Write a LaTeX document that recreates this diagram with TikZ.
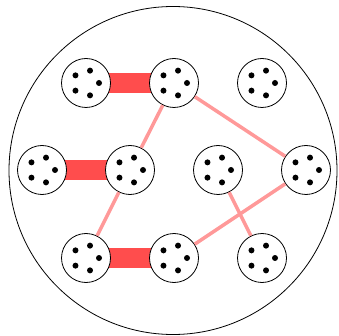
\documentclass[tikz,border=0pt]{standalone}
\usetikzlibrary{backgrounds}
\definecolor{bondred}{RGB}{255,77,77}
\definecolor{linkpink}{RGB}{255,153,153}
\tikzset{
    cell/.style={circle, draw=black, fill=white, line width=0.8pt, minimum size=49pt, inner sep=0pt,
        path picture={\foreach \a in {0,72,...,288} {\fill[black] (path picture bounding box.center) ++(\a:13pt) circle (3pt);}}},
    bond/.style={line width=20pt, bondred},
    link/.style={line width=3.5pt, linkpink},
}
\begin{document}
\begin{tikzpicture}[x=1pt,y=-1pt]
    \useasboundingbox (0,0) rectangle (339,336);
    % Outer boundary
    \node[circle, draw, line width=0.8pt, minimum size=328pt, inner sep=0pt] (outer) at (173,170.5) {};
    % Top row
    \foreach \x/\n in {86/t1, 174/t2, 262/t3} {
        \node[cell] (\n) at (\x, 83) {};
    }
    % Middle row
    \foreach \x/\n in {42/m1, 130/m2, 218/m3, 306/m4} {
        \node[cell] (\n) at (\x, 170) {};
    }
    % Bottom row
    \foreach \x/\n in {86/b1, 174/b2, 262/b3} {
        \node[cell] (\n) at (\x, 258) {};
    }
    % Thick bonds
    \begin{scope}[on background layer]
        \foreach \a/\b in {t1/t2, m1/m2, b1/b2} {
            \draw[bond] (\a.center) -- (\b.center);
        }
    \end{scope}
    % Thin links
    \foreach \a/\b in {t2/m2, m2/b1, t2/m4, m4/b2, m3/b3} {
        \draw[link] (\a) -- (\b);
    }
\end{tikzpicture}
\end{document}
